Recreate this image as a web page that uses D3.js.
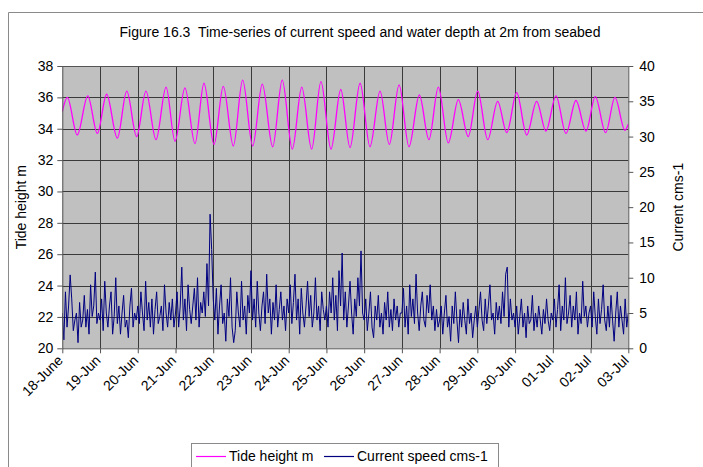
<!DOCTYPE html>
<html>
<head>
<meta charset="utf-8">
<script src="https://cdn.jsdelivr.net/npm/d3@7"></script>
<style>
  body { margin: 0; background: #fff; }
  svg { display: block; }
  text { font-family: "Liberation Sans", Arial, sans-serif; fill: #000; }
</style>
</head>
<body>
<svg id="chart" width="703" height="467"></svg>
<script>
// ---- data ----------------------------------------------------------------
const startDate = new Date(2004, 5, 18);           // 18 June, 00:00
const endDate = new Date(2004, 6, 3);              // 03 July, 00:00

const dateLabels = ["18-June", "19-Jun", "20-Jun", "21-Jun", "22-Jun", "23-Jun", "24-Jun",
  "25-Jun", "26-Jun", "27-Jun", "28-Jun", "29-Jun", "30-Jun", "01-Jul", "02-Jul", "03-Jul"];

const leftTicks = [20, 22, 24, 26, 28, 30, 32, 34, 36, 38];
const rightTicks = [0, 5, 10, 15, 20, 25, 30, 35, 40];

// tide turning points: hours after 18 June 00:00 and height (m)
const tideHours = [0, 3.2, 9.5, 16.2, 22.3, 28.2, 35.0, 41.0, 47.3, 53.2, 59.6, 66.0, 71.7,
  78.0, 84.4, 90.1, 96.5, 102.4, 108.8, 114.7, 121.1, 127.2, 133.8, 139.9, 146.3, 152.3,
  158.6, 164.5, 170.9, 177.1, 183.0, 189.4, 195.7, 202.1, 208.0, 214.2, 220.5, 227.1,
  233.2, 239.2, 245.5, 251.9, 258.2, 264.2, 270.6, 276.9, 282.7, 289.0, 295.4, 301.7,
  307.6, 314.0, 320.4, 326.7, 333.1, 339.0, 345.6, 351.5, 357.9, 360];
const tideHeight = [35.1, 36.0, 33.6, 36.1, 33.7, 36.2, 33.4, 36.4, 33.5, 36.4, 33.3, 36.65, 33.2,
  36.6, 33.05, 36.9, 33.0, 36.7, 32.9, 37.1, 32.9, 36.85, 32.85, 37.1, 32.7, 36.65,
  32.7, 37.0, 32.7, 36.5, 32.8, 36.9, 32.85, 36.4, 33.0, 36.8, 32.85, 36.15,
  33.3, 36.65, 33.1, 35.85, 33.5, 36.4, 33.3, 35.75, 33.75, 36.3, 33.6, 35.75,
  33.85, 36.1, 33.7, 35.8, 33.85, 36.05, 33.75, 36.0, 33.9, 34.3];

// hourly current speed (cm/s) from 18 June 00:00, one row per day
const currentSpeed = [
  5, 1.2, 8, 3, 6, 10.4, 7, 2.5, 4, 5, 0.8, 6.5, 3, 4, 7.5, 3, 5.5, 2, 9, 4.5, 6, 10.8, 3.5, 5,
  4, 7, 2.5, 9.5, 5, 3, 6, 8, 2, 4.5, 10, 3.5, 6, 2, 5, 7.5, 3, 4, 1.5, 6, 8.5, 3, 5, 4,
  6, 3.5, 8, 5, 2.5, 9.5, 4, 6.5, 3, 7, 2, 5.5, 8, 3.5, 4.5, 6, 2.5, 9, 5, 3, 6.5, 4, 7, 3,
  5, 8, 3, 6, 11.5, 4, 7, 2.5, 9, 5.5, 3.5, 6, 8.5, 4, 10, 3, 6.5, 5, 8, 4.5, 12, 6, 19, 14,
  7, 4, 8.5, 2, 6, 9, 3.5, 5, 1, 7, 4.5, 10, 3, 0.8, 2.5, 8, 5, 3, 9.5, 4, 6, 2, 7.5, 5,
  11, 4, 7, 3, 9.5, 5, 2.5, 6, 8, 3.5, 10.5, 5, 7, 2, 6.5, 4, 9, 3, 5.5, 8, 4, 6, 2.5, 7,
  5, 9, 3.5, 6.5, 10.5, 4, 7, 2, 8.5, 5, 3, 6, 9.5, 4.5, 7.5, 3, 5, 10, 4, 6, 2.5, 8, 5.5, 4,
  6, 3, 8, 5, 10, 4, 7.5, 2.5, 11, 6, 13.5, 4, 8, 3, 6, 9.5, 5, 2, 7, 4.5, 10, 6, 13.8, 5,
  4, 7, 2.5, 5, 8, 3, 1.5, 6, 4, 7.5, 3, 5, 2, 6.5, 4, 8, 3, 5.5, 2.5, 7, 4, 6, 3, 5,
  5, 8.5, 3, 6, 2, 9, 4.5, 7, 3.5, 10.5, 5, 2.5, 6, 8, 4, 3, 7.5, 5, 9, 4, 6, 2.5, 5.5, 3,
  4, 6, 2, 5, 7.5, 3, 4.5, 1, 6, 3.5, 8, 4, 0.8, 5.5, 3, 6.5, 4, 2, 7, 3.5, 5, 1.5, 4, 6,
  3, 5.5, 8, 4, 2.5, 7, 3.5, 6, 9, 4, 5, 2, 6.5, 4, 6, 3.5, 8, 4.5, 10.5, 11.5, 3, 7, 4, 5,
  3, 6, 2, 4.5, 7, 3, 5, 1.5, 6, 3.5, 4, 7.5, 2.5, 5, 3, 6, 4, 2, 5.5, 3.5, 7, 4, 2.5, 5,
  4, 7, 3, 5.5, 9, 2.5, 6, 4, 10, 3.5, 5, 7.5, 3, 6, 4, 8, 2, 5, 3.5, 9.5, 4.5, 6, 3, 5,
  6, 3, 8, 4.5, 2, 7, 3.5, 5.5, 9, 4, 2.5, 6, 3, 7.5, 4, 1, 5, 8, 3, 6, 4, 2, 7, 3,
  5
];

// ---- layout --------------------------------------------------------------
const svg = d3.select("#chart");
const plot = { left: 62.3, right: 628.3, top: 66, bottom: 348.3 };
const hour = 3600 * 1000;
const fontSize = 14;

const x = d3.scaleTime().domain([startDate, endDate]).range([plot.left, plot.right]);
const yLeft = d3.scaleLinear().domain([20, 38]).range([plot.bottom, plot.top]);
const yRight = d3.scaleLinear().domain([0, 40]).range([plot.bottom, plot.top]);
const dayTicks = dateLabels.map((_, i) => d3.timeDay.offset(startDate, i));

// outer chart frame
svg.append("path")
  .attr("d", "M8.5,467 V12.5 H703")
  .attr("fill", "none").attr("stroke", "#8a8a8a").attr("stroke-width", 1);

// title
svg.append("text")
  .attr("x", 360).attr("y", 37)
  .attr("text-anchor", "middle").attr("font-size", fontSize)
  .style("white-space", "pre")
  .text("Figure 16.3  Time-series of current speed and water depth at 2m from seabed");

// plot background
svg.append("rect")
  .attr("x", plot.left).attr("y", plot.top)
  .attr("width", plot.right - plot.left).attr("height", plot.bottom - plot.top)
  .attr("fill", "#c0c0c0");

// grid
const grid = svg.append("g").attr("stroke", "#3a3a3a").attr("stroke-width", 1);
grid.selectAll("line.h").data(leftTicks.slice(1)).join("line")
  .attr("x1", plot.left).attr("x2", plot.right)
  .attr("y1", d => Math.round(yLeft(d)) + 0.5).attr("y2", d => Math.round(yLeft(d)) + 0.5);
grid.selectAll("line.v").data(dayTicks.slice(1, -1)).join("line")
  .attr("y1", plot.top).attr("y2", plot.bottom)
  .attr("x1", d => Math.round(x(d)) + 0.5).attr("x2", d => Math.round(x(d)) + 0.5);

// series
svg.append("clipPath").attr("id", "plotClip").append("rect")
  .attr("x", plot.left).attr("y", plot.top)
  .attr("width", plot.right - plot.left).attr("height", plot.bottom - plot.top);

const tideLine = d3.line()
  .x((d, i) => x(new Date(startDate.getTime() + tideHours[i] * hour)))
  .y(d => yLeft(d))
  .curve(d3.curveMonotoneX);
svg.append("path")
  .datum(tideHeight)
  .attr("clip-path", "url(#plotClip)")
  .attr("d", tideLine)
  .attr("fill", "none").attr("stroke", "#ff00ff").attr("stroke-width", 1.3);

const currentLine = d3.line()
  .x((d, i) => x(new Date(startDate.getTime() + i * hour)))
  .y(d => yRight(d));
svg.append("path")
  .datum(currentSpeed)
  .attr("clip-path", "url(#plotClip)")
  .attr("d", currentLine)
  .attr("fill", "none").attr("stroke", "#000080").attr("stroke-width", 1)
  .attr("stroke-linejoin", "round");

// axes
function styleAxis(g) {
  g.selectAll(".domain").attr("stroke", "#555");
  g.selectAll(".tick line").attr("stroke", "#555");
  g.selectAll(".tick text").attr("font-size", fontSize)
    .attr("font-family", "\"Liberation Sans\", Arial, sans-serif").attr("fill", "#000");
}

svg.append("g")
  .attr("transform", `translate(${plot.left},0)`)
  .call(d3.axisLeft(yLeft).tickValues(leftTicks).tickSize(5).tickPadding(4).tickSizeOuter(0))
  .call(styleAxis);

svg.append("g")
  .attr("transform", `translate(${plot.right},0)`)
  .call(d3.axisRight(yRight).tickValues(rightTicks).tickSize(5).tickPadding(6).tickSizeOuter(0))
  .call(styleAxis);

const xAxis = svg.append("g")
  .attr("transform", `translate(0,${plot.bottom})`)
  .call(d3.axisBottom(x).tickValues(dayTicks).tickFormat((d, i) => dateLabels[i])
    .tickSize(5).tickSizeOuter(0))
  .call(styleAxis);
xAxis.selectAll(".tick text")
  .attr("text-anchor", "end")
  .attr("dy", 0).attr("y", 0)
  .attr("transform", "translate(1,13) rotate(-45)");

// top border of plot
svg.append("line")
  .attr("x1", plot.left).attr("x2", plot.right)
  .attr("y1", plot.top + 0.5).attr("y2", plot.top + 0.5)
  .attr("stroke", "#555");

// axis titles
svg.append("text")
  .attr("transform", `translate(26,${(plot.top + plot.bottom) / 2}) rotate(-90)`)
  .attr("text-anchor", "middle").attr("font-size", fontSize)
  .text("Tide height m");
svg.append("text")
  .attr("transform", `translate(683,${(plot.top + plot.bottom) / 2}) rotate(-90)`)
  .attr("text-anchor", "middle").attr("font-size", fontSize)
  .text("Current cms-1");

// legend
const legend = svg.append("g");
legend.append("rect")
  .attr("x", 191.5).attr("y", 443.5).attr("width", 307).attr("height", 30)
  .attr("fill", "#fff").attr("stroke", "#8a8a8a");
const legendItems = [
  { label: "Tide height m", color: "#ff00ff", x: 196 },
  { label: "Current speed cms-1", color: "#000080", x: 324 }
];
legendItems.forEach(it => {
  legend.append("line")
    .attr("x1", it.x).attr("x2", it.x + 30).attr("y1", 456.5).attr("y2", 456.5)
    .attr("stroke", it.color).attr("stroke-width", 1.2);
  legend.append("text")
    .attr("x", it.x + 33).attr("y", 461).attr("font-size", fontSize)
    .text(it.label);
});
</script>
</body>
</html>
